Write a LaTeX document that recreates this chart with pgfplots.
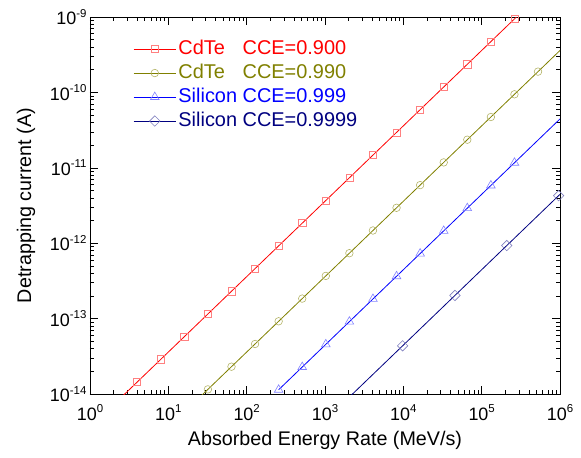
\documentclass[border=0pt]{standalone}
\usepackage{fontspec}
\setmainfont{Liberation Sans}
\usepackage{pgfplots}
\pgfplotsset{compat=1.18}
\definecolor{olv}{RGB}{128,128,0}
\definecolor{nvy}{RGB}{0,0,128}
\newcommand{\pw}[1]{10\raisebox{0.42em}{\fontsize{11.5}{12}\selectfont #1}}

\begin{document}
\begin{tikzpicture}
\path[use as bounding box] (-90bp,-64bp) rectangle (491bp,394bp);
\begin{axis}[
    scale only axis,
    width=470bp, height=377bp,
    xmode=log, ymode=log,
    xmin=1, xmax=1e6,
    ymin=1e-14, ymax=1e-9,
    xtick={1,10,100,1000,10000,100000,1000000},
    xticklabels={\pw{0},\pw{1},\pw{2},\pw{3},\pw{4},\pw{5},\pw{6}},
    ytick={1e-14,1e-13,1e-12,1e-11,1e-10,1e-9},
    yticklabels={\pw{-14},\pw{-13},\pw{-12},\pw{-11},\pw{-10},\pw{-9}},
    tick label style={font=\fontsize{18}{20}\selectfont},
    xticklabel style={anchor=base, yshift=-26bp},
    label style={font=\fontsize{19.8}{23}\selectfont},
    xlabel={Absorbed Energy Rate (MeV/s)},
    ylabel={Detrapping current (A)},
    xlabel style={at={(axis description cs:0.5,-0.1353)}, anchor=base},
    ylabel style={at={(axis description cs:-0.136,0.5)}, anchor=center},
    major tick length=8bp, minor tick length=4bp,
    tick style={black, line width=0.6pt},
    axis line style={line width=0.8pt},
    legend style={at={(axis description cs:0.085,0.95)}, anchor=north west,
        draw=none, fill=none, font=\fontsize{20}{23}\selectfont, row sep=2bp,
        nodes={text height=14bp, text depth=4bp, inner sep=2bp}},
    legend cell align=left,
    legend image code/.code={\draw[mark indices={2}] plot coordinates {(0cm,0cm) (0.75cm,0cm) (1.5cm,0cm)};},
]
% CdTe CCE=0.900
\addplot[red, line width=0.8pt, mark=square, mark size=3.6pt,
    mark options={draw=red!50!white, fill=white, solid, line width=0.6pt},
    mark indices={1,2,3,4,5,6,7,8,9,10,11,12,13,14,15,16,17}] coordinates {
    (2,7.2e-15) (4,1.44e-14) (8,2.88e-14) (16,5.76e-14) (32,1.152e-13)
    (64,2.304e-13) (128,4.608e-13) (256,9.216e-13) (512,1.843e-12)
    (1024,3.686e-12) (2048,7.373e-12) (4096,1.475e-11) (8192,2.949e-11)
    (16384,5.898e-11) (32768,1.180e-10) (65536,2.359e-10) (131072,4.719e-10)
    (262144,9.437e-10) (524288,1.887e-9)
};
\addlegendentry{\textcolor{red}{\rlap{CdTe}\phantom{Silicon} CCE=0.900}}
% CdTe CCE=0.990
\addplot[olv, line width=0.8pt, mark=o, mark size=3.8pt,
    mark options={draw=olv!60!white, fill=white, solid, line width=0.6pt},
    mark indices={1,2,3,4,5,6,7,8,9,10,11,12,13,14,15}] coordinates {
    (16,5.76e-15) (32,1.152e-14) (64,2.304e-14) (128,4.608e-14) (256,9.216e-14)
    (512,1.843e-13) (1024,3.686e-13) (2048,7.373e-13) (4096,1.475e-12)
    (8192,2.949e-12) (16384,5.898e-12) (32768,1.180e-11) (65536,2.359e-11)
    (131072,4.719e-11) (262144,9.437e-11) (524288,1.887e-10) (1000000,3.6e-10)
};
\addlegendentry{\textcolor{olv}{\rlap{CdTe}\phantom{Silicon} CCE=0.990}}
% Silicon CCE=0.999
\addplot[blue, line width=0.8pt, mark=triangle, mark size=5pt,
    mark options={draw=blue!50!white, fill=white, solid, line width=0.6pt},
    mark indices={0,1,2,3,4,5,6,7,8,9,10,11}] coordinates {
    (256,1.139e-14) (512,2.278e-14) (1024,4.557e-14) (2048,9.114e-14)
    (4096,1.823e-13) (8192,3.645e-13) (16384,7.291e-13) (32768,1.458e-12)
    (65536,2.916e-12) (131072,5.833e-12) (262144,1.167e-11) (524288,2.333e-11)
    (1000000,4.45e-11)
};
\addlegendentry{\textcolor{blue}{Silicon CCE=0.999}}
% Silicon CCE=0.9999
\addplot[nvy, line width=0.8pt, mark=square, mark size=3.7pt,
    mark options={draw=nvy!50!white, fill=white, solid, line width=0.6pt, rotate=45},
    mark indices={0,1,2,3,4}] coordinates {
    (2100,9.35e-15) (9800,4.36e-14) (45600,2.03e-13) (209000,9.30e-13)
    (960000,4.27e-12) (1000000,4.45e-12)
};
\addlegendentry{\textcolor{nvy}{Silicon CCE=0.9999}}
\end{axis}
\end{tikzpicture}
\end{document}
